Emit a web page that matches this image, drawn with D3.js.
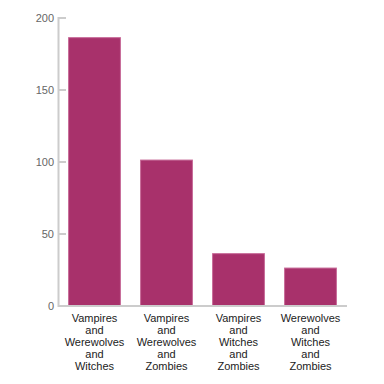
<!DOCTYPE html>
<html>
<head>
<meta charset="utf-8">
<script src="https://cdn.jsdelivr.net/npm/d3@7"></script>
<style>
  html, body { margin: 0; padding: 0; background: #fff; }
  svg { display: block; }
</style>
</head>
<body>
<svg id="chart" width="384" height="384"></svg>
<script>
const categories = [
  "Vampires and Werewolves and Witches",
  "Vampires and Werewolves and Zombies",
  "Vampires and Witches and Zombies",
  "Werewolves and Witches and Zombies"
];
const values = [186, 101, 36, 26];
const yTicks = [0, 50, 100, 150, 200];

const svg = d3.select("#chart");
const margin = { left: 58, right: 38, top: 17.5, bottom: 78.5 };
const W = 384, H = 384;

const x = d3.scaleBand()
  .domain(categories)
  .range([margin.left, W - margin.right])
  .paddingInner(0.28)
  .paddingOuter(0.14);

const y = d3.scaleLinear()
  .domain([0, 200])
  .range([H - margin.bottom, margin.top]);

// bars
svg.append("g").selectAll("rect")
  .data(categories)
  .join("rect")
  .attr("x", d => x(d) + 0.5)
  .attr("y", (d, i) => y(values[i]))
  .attr("width", x.bandwidth())
  .attr("height", (d, i) => y(0) - y(values[i]))
  .attr("fill", "#a8316b")
  .attr("stroke", "#c76a98")
  .attr("stroke-width", 1);

// y axis
const yAxis = svg.append("g")
  .attr("transform", `translate(${margin.left},0)`)
  .call(d3.axisRight(y).tickValues(yTicks).tickSize(8).tickFormat(d3.format("d")));
yAxis.select(".domain").attr("stroke", "#cccccc").attr("stroke-width", 2);
yAxis.selectAll(".tick line").attr("stroke", "#cccccc").attr("stroke-width", 2);
yAxis.selectAll(".tick text")
  .attr("x", -4)
  .attr("text-anchor", "end")
  .attr("fill", "#666")
  .style("font-family", "Liberation Sans, Arial, sans-serif")
  .style("font-size", "11px");

// x axis baseline
svg.append("line")
  .attr("x1", margin.left)
  .attr("x2", W - margin.right + 1)
  .attr("y1", y(0) + 0.5)
  .attr("y2", y(0) + 0.5)
  .attr("stroke", "#cccccc")
  .attr("stroke-width", 2);

// x labels (wrapped)
const labels = svg.append("g").selectAll("text")
  .data(categories)
  .join("text")
  .attr("text-anchor", "middle")
  .attr("fill", "#222")
  .style("font-family", "Liberation Sans, Arial, sans-serif")
  .style("font-size", "11px")
  .attr("transform", d => `translate(${x(d) + x.bandwidth() / 2 + 0.5},${y(0) + 16})`);

labels.each(function(d) {
  const words = d.split(" ");
  const t = d3.select(this);
  words.forEach((w, i) => {
    t.append("tspan").attr("x", 0).attr("y", i * 12).text(w);
  });
});
</script>
</body>
</html>
